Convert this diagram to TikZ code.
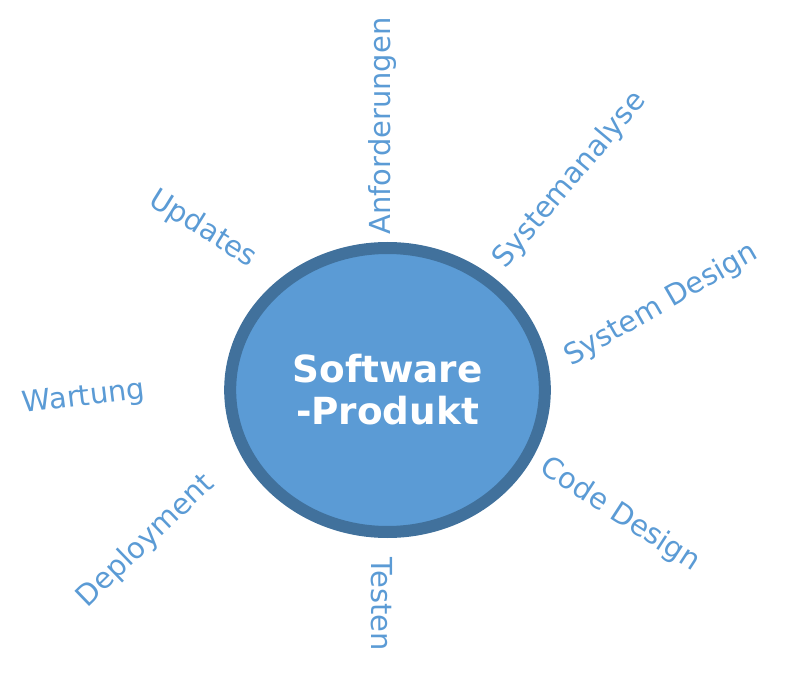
\documentclass[tikz,border=0pt]{standalone}
\usepackage{fontspec}
\setmainfont{DejaVu Sans}
\usetikzlibrary{shapes.geometric}

\definecolor{fillblue}{HTML}{5B9BD5}
\definecolor{rimblue}{HTML}{41719C}
\definecolor{labelblue}{HTML}{5B9BD5}

\begin{document}
\begin{tikzpicture}[x=0.75pt, y=-0.75pt,
    phase/.style={text=labelblue, inner sep=0pt, font=\fontsize{21.7}{26}\selectfont}]

    % Canvas
    \useasboundingbox (0,0) rectangle (789,684);

    % Product in the middle
    \node[ellipse, draw=rimblue, line width=9pt, fill=fillblue,
          minimum width=236pt, minimum height=213pt, inner sep=0pt,
          text=white, align=center, font=\bfseries\fontsize{28}{31.5}\selectfont]
      (produkt) at (387.5,390) {Software\\-Produkt};

    % Phases around it (clockwise from the top)
    \node[phase, rotate=90]  (anf)     at (383,126) {Anforderungen};
    \node[phase, rotate=50]  (sysana)  at (570,180) {Systemanalyse};
    \node[phase, rotate=30]  (sysdes)  at (661,305) {System Design};
    \node[phase, rotate=-33] (codedes) at (620,515) {Code Design};
    \node[phase, rotate=-90] (testen)  at (382,604) {Testen};
    \node[phase, rotate=44]  (deploy)  at (146,541) {Deployment};
    \node[phase, rotate=7]   (wartung) at (84,398)  {Wartung};
    \node[phase, rotate=-32] (updates) at (203,229) {Updates};

\end{tikzpicture}
\end{document}
